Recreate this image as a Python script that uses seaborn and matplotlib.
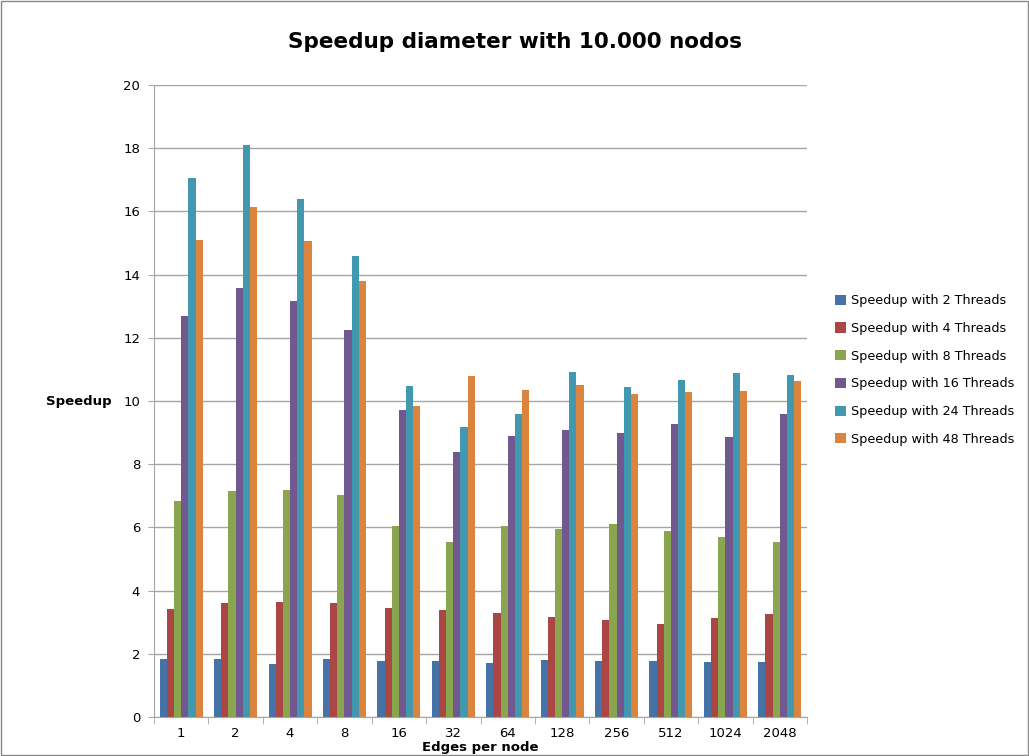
import numpy as np
import pandas as pd
import matplotlib
matplotlib.use('Agg')
import matplotlib.pyplot as plt
import seaborn as sns

# ---- data ----
edges = ['1', '2', '4', '8', '16', '32', '64', '128', '256', '512', '1024', '2048']
s2 = [1.85, 1.83, 1.69, 1.83, 1.76, 1.76, 1.72, 1.79, 1.76, 1.76, 1.74, 1.74]
s4 = [3.41, 3.60, 3.63, 3.60, 3.44, 3.39, 3.30, 3.16, 3.08, 2.94, 3.13, 3.25]
s8 = [6.84, 7.14, 7.17, 7.01, 6.05, 5.54, 6.03, 5.96, 6.12, 5.90, 5.71, 5.54]
s16 = [12.69, 13.58, 13.15, 12.26, 9.73, 8.40, 8.88, 9.08, 9.00, 9.28, 8.86, 9.60]
s24 = [17.06, 18.10, 16.40, 14.59, 10.48, 9.18, 9.58, 10.92, 10.44, 10.66, 10.90, 10.83]
s48 = [15.11, 16.13, 15.07, 13.81, 9.83, 10.79, 10.35, 10.50, 10.21, 10.28, 10.32, 10.63]

series = {
    'Speedup with 2 Threads': s2,
    'Speedup with 4 Threads': s4,
    'Speedup with 8 Threads': s8,
    'Speedup with 16 Threads': s16,
    'Speedup with 24 Threads': s24,
    'Speedup with 48 Threads': s48,
}
colors = ['#4572A7', '#AA4643', '#89A54E', '#71588F', '#4198AF', '#DB843D']

rows = []
for name, vals in series.items():
    for e, v in zip(edges, vals):
        rows.append({'edges': e, 'serie': name, 'speedup': v})
df = pd.DataFrame(rows)

sns.set_style('white')
plt.rcParams['font.family'] = ['DejaVu Sans']
plt.rcParams['text.color'] = 'black'
plt.rcParams['axes.labelcolor'] = 'black'
plt.rcParams['xtick.color'] = 'black'
plt.rcParams['ytick.color'] = 'black'

fig = plt.figure(figsize=(10.29, 7.56), dpi=100)
ax = fig.add_axes([154 / 1029, 1 - 717 / 756, 653 / 1029, 632 / 756])

sns.barplot(data=df, x='edges', y='speedup', hue='serie', order=edges,
            hue_order=list(series.keys()), palette=colors, width=0.79,
            saturation=1, edgecolor='none', ax=ax, legend=True)

ax.set_ylim(0, 20)
ax.set_yticks(range(0, 21, 2))
ax.set_xlim(-0.5, len(edges) - 0.5)
ax.yaxis.grid(True, color='#a6a6a6', lw=1)
ax.set_axisbelow(True)
for s in ['top', 'right']:
    ax.spines[s].set_visible(False)
for s in ['left', 'bottom']:
    ax.spines[s].set_color('#a6a6a6')
ax.tick_params(axis='y', length=4, color='#a6a6a6', labelsize=9.5, left=True, pad=6)
ax.tick_params(axis='x', which='major', length=0, labelsize=9.5, pad=7)
ax.set_xticks(np.arange(-0.5, len(edges)), minor=True)
ax.tick_params(axis='x', which='minor', length=5, color='#a6a6a6', bottom=True)

ax.set_xlabel('Edges per node', fontsize=9.5, fontweight='bold', labelpad=1)
ax.set_ylabel('Speedup', fontsize=9.5, fontweight='bold', rotation=0,
              ha='right', va='center', labelpad=8)

fig.suptitle('Speedup diameter with 10.000 nodos', fontsize=15.5,
             fontweight='bold', y=1 - 42 / 756, va='center')

leg = ax.legend(loc='center left', bbox_to_anchor=(1.025, 0.549), frameon=False,
                fontsize=9.2, handlelength=0.85, handleheight=0.85,
                handletextpad=0.4, labelspacing=1.15)

fig.patches.append(plt.Rectangle((0.001, 0.001), 0.998, 0.998, transform=fig.transFigure,
                                 fill=False, edgecolor='#888888', lw=1))

fig.savefig('out.png', dpi=100)
